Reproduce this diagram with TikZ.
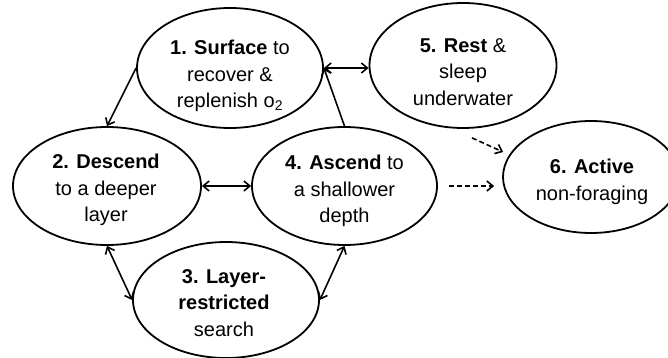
\documentclass[tikz,border=0pt]{standalone}
\usepackage{fontspec}
\setmainfont{Liberation Sans}
\usetikzlibrary{arrows.meta,calc,shapes.geometric}
\begin{document}
\begin{tikzpicture}[x=1pt,y=-1pt,
  state/.style={ellipse, draw, line width=1.8pt, inner sep=0pt},
  txt/.style={anchor=north, align=center, inner sep=0pt, font=\fontsize{20pt}{26.5pt}\selectfont},
  barb/.tip={Straight Barb[length=6pt,width=10pt]},
  one/.style={line width=1.6pt, -barb},
  two/.style={line width=1.6pt, barb-barb},
  dasharrow/.style={line width=1.6pt, dash pattern=on 5pt off 3pt, -barb}
]
\useasboundingbox (0,0) rectangle (668,358);
\node[state, minimum width=186pt, minimum height=120pt] (s1) at (230,68) {};
\node[txt] (t1) at (230,40) {\textbf{1. Surface} to\\recover \&\\replenish o\textsubscript{2}};
\node[state, minimum width=187pt, minimum height=125pt] (s5) at (463,65.5) {};
\node[txt] (t5) at (463,38) {\textbf{5. Rest} \&\\sleep\\underwater};
\node[state, minimum width=188pt, minimum height=118pt] (s2) at (107,186) {};
\node[txt] (t2) at (106,154) {\textbf{2. Descend}\\to a deeper\\layer};
\node[state, minimum width=185pt, minimum height=118pt] (s4) at (344.5,186) {};
\node[txt] (t4) at (344.5,155) {\textbf{4. Ascend} to\\a shallower\\depth};
\node[state, minimum width=186pt, minimum height=116pt] (s3) at (226,300) {};
\node[txt] (t3) at (224,269) {\textbf{3. Layer-}\\\textbf{restricted}\\search};
\node[state, minimum width=176pt, minimum height=112pt] (s6) at (591,177) {};
\node[txt] (t6) at (592,159) {\textbf{6. Active}\\non-foraging};
\draw[one] (s1.west) -- (s2.north);
\draw[one] (s4.north) -- (s1.east);
\draw[two] (s1.east) -- (s1.east -| s5.west);
\draw[two] (s2.east) -- (s4.west);
\draw[two] (s2.south) -- (s3.west);
\draw[two] (s3.east) -- (s4.south);
\coordinate (d1a) at ($(s5.south)+(9,9)$);
\coordinate (d1b) at ($(s6.west)+(1,-25)$);
\draw[dasharrow] (d1a) -- (d1b);
\draw[dasharrow, shorten <=11pt, shorten >=8pt] (s4.east) -- (s4.east -| s6.west);
\end{tikzpicture}
\end{document}
